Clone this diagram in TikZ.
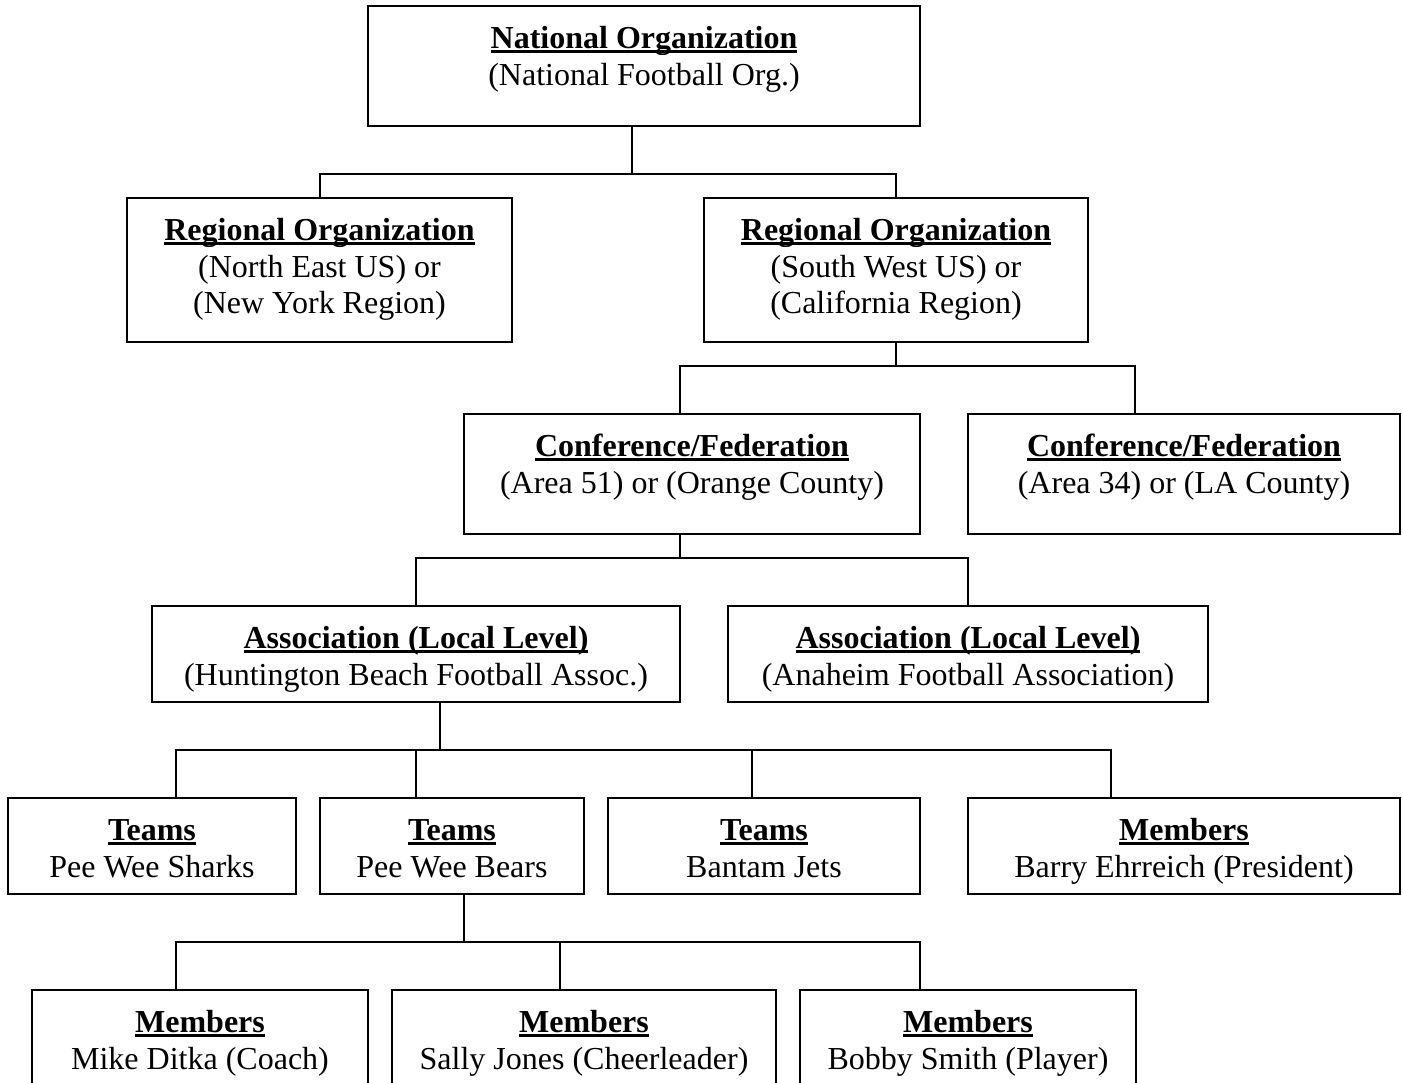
\documentclass[tikz,border=0pt]{standalone}
\usepackage{fontspec}
\setmainfont{Liberation Serif}
\newsavebox\ulbox
\newcommand\ulhead[1]{\sbox\ulbox{\bfseries #1}\rlap{\rule[-5pt]{\wd\ulbox}{3pt}}\usebox\ulbox}
\tikzset{
  orgbox/.style={draw, line width=2pt, rectangle, inner sep=0pt},
  link/.style={line width=2pt},
  txt/.style={inner sep=0pt, anchor=base, font=\fontsize{32}{37}\selectfont}
}
\begin{document}
\begin{tikzpicture}[x=1pt,y=-1pt]
\useasboundingbox (0,0) rectangle (1403,1082);
\clip (0,0) rectangle (1403,1082);
\fill[white] (0,0) rectangle (1403,1082);

% Level 0
\node[orgbox, minimum width=552, minimum height=120] (nat) at (644,66) {};
\node[txt] (natA) at (644,48) {\ulhead{National Organization}};
\node[txt] (natB) at (644,85) {(National Football Org.)};

% Level 1
\node[orgbox, minimum width=385, minimum height=144] (regL) at (319.5,270) {};
\node[txt] (regLA) at (319.5,240) {\ulhead{Regional Organization}};
\node[txt] (regLB) at (319.5,277) {(North East US) or};
\node[txt] (regLC) at (319.5,313) {(New York Region)};

\node[orgbox, minimum width=384, minimum height=144] (regR) at (896,270) {};
\node[txt] (regRA) at (896,240) {\ulhead{Regional Organization}};
\node[txt] (regRB) at (896,277) {(South West US) or};
\node[txt] (regRC) at (896,313) {(California Region)};

% Level 2
\node[orgbox, minimum width=456, minimum height=120] (confL) at (692,474) {};
\node[txt] (confLA) at (692,456) {\ulhead{Conference/Federation}};
\node[txt] (confLB) at (692,493) {(Area 51) or (Orange County)};

\node[orgbox, minimum width=432, minimum height=120] (confR) at (1184,474) {};
\node[txt] (confRA) at (1184,456) {\ulhead{Conference/Federation}};
\node[txt] (confRB) at (1184,493) {(Area 34) or (LA County)};

% Level 3
\node[orgbox, minimum width=528, minimum height=96] (asL) at (416,654) {};
\node[txt] (asLA) at (416,648) {\ulhead{Association (Local Level)}};
\node[txt] (asLB) at (416,685) {(Huntington Beach Football Assoc.)};

\node[orgbox, minimum width=480, minimum height=96] (asR) at (968,654) {};
\node[txt] (asRA) at (968,648) {\ulhead{Association (Local Level)}};
\node[txt] (asRB) at (968,685) {(Anaheim Football Association)};

% Level 4
\node[orgbox, minimum width=288, minimum height=96] (t1) at (152,846) {};
\node[txt] (t1A) at (152,840) {\ulhead{Teams}};
\node[txt] (t1B) at (152,877) {Pee Wee Sharks};

\node[orgbox, minimum width=264, minimum height=96] (t2) at (452,846) {};
\node[txt] (t2A) at (452,840) {\ulhead{Teams}};
\node[txt] (t2B) at (452,877) {Pee Wee Bears};

\node[orgbox, minimum width=312, minimum height=96] (t3) at (764,846) {};
\node[txt] (t3A) at (764,840) {\ulhead{Teams}};
\node[txt] (t3B) at (764,877) {Bantam Jets};

\node[orgbox, minimum width=432, minimum height=96] (t4) at (1184,846) {};
\node[txt] (t4A) at (1184,840) {\ulhead{Members}};
\node[txt] (t4B) at (1184,877) {Barry Ehrreich (President)};

% Level 5
\node[orgbox, minimum width=336, minimum height=120] (m1) at (200,1050) {};
\node[txt] (m1A) at (200,1032) {\ulhead{Members}};
\node[txt] (m1B) at (200,1069) {Mike Ditka (Coach)};

\node[orgbox, minimum width=384, minimum height=120] (m2) at (584,1050) {};
\node[txt] (m2A) at (584,1032) {\ulhead{Members}};
\node[txt] (m2B) at (584,1069) {Sally Jones (Cheerleader)};

\node[orgbox, minimum width=336, minimum height=120] (m3) at (968,1050) {};
\node[txt] (m3A) at (968,1032) {\ulhead{Members}};
\node[txt] (m3B) at (968,1069) {Bobby Smith (Player)};

% Connectors
\coordinate (bus0) at (632,174);
\draw[link] (632,0 |- nat.south) -- (bus0);
\draw[link] (bus0) -| (regL.north);
\draw[link] (bus0) -| (regR.north);

\coordinate (bus1) at (896,366);
\draw[link] (regR.south) -- (bus1);
\draw[link] (bus1) -| (680,0 |- confL.north);
\draw[link] (bus1) -| (1135,0 |- confR.north);

\coordinate (bus2) at (680,558);
\draw[link] (680,0 |- confL.south) -- (bus2);
\draw[link] (bus2) -| (asL.north);
\draw[link] (bus2) -| (asR.north);

\coordinate (bus3) at (440,750);
\draw[link] (440,0 |- asL.south) -- (bus3);
\draw[link] (bus3) -| (176,0 |- t1.north);
\draw[link] (bus3) -| (416,0 |- t2.north);
\draw[link] (bus3) -| (752,0 |- t3.north);
\draw[link] (bus3) -| (1111,0 |- t4.north);

\coordinate (bus4) at (464,942);
\draw[link] (464,0 |- t2.south) -- (bus4);
\draw[link] (bus4) -| (176,0 |- m1.north);
\draw[link] (bus4) -| (560,0 |- m2.north);
\draw[link] (bus4) -| (920,0 |- m3.north);
\end{tikzpicture}
\end{document}
